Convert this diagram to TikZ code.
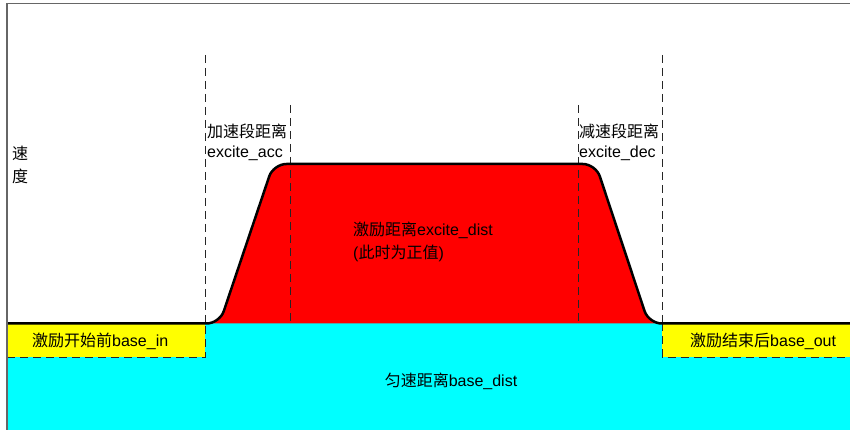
\documentclass[tikz,border=0pt]{standalone}
\usepackage{fontspec}
\setmainfont{Liberation Sans}
\newfontfamily\cjk{Noto Sans CJK SC}
\definecolor{basecyan}{RGB}{0,255,255}
\definecolor{baseyellow}{RGB}{255,255,0}
\definecolor{excitered}{RGB}{255,0,0}

\begin{document}
\begin{tikzpicture}[x=1pt, y=1pt,
    frame/.style={draw=black!60, line width=1.6pt},
    guide/.style={draw=black!85, dash pattern=on 8pt off 5pt, line width=0.8pt},
    profile/.style={line width=2.5pt, rounded corners=13pt},
    txt/.style={font=\fontsize{16}{20}\selectfont, inner sep=0pt}
]
\useasboundingbox (0,0) rectangle (850,430);

% Base distance
\fill[basecyan] (7,0) rectangle (850,106.5);
\fill[baseyellow] (7,73) rectangle (205,106.5);
\fill[baseyellow] (662,73) rectangle (850,106.5);
\draw[guide] (7,73) -- (205,73) -- (205,106.5);
\draw[guide] (662,106.5) -- (662,73) -- (850,73);

% Excite distance
\fill[excitered, rounded corners=13pt] (205,106.5) -- (219.6,106.5) -- (273.4,266) -- (595.7,266) -- (648.7,106.5) -- (662,106.5);

% Segment borders
\draw[guide] (205,375) -- (205,106.5);
\draw[guide] (290,325) -- (290,106.5);
\draw[guide] (578,325) -- (578,106.5);
\draw[guide] (662,375) -- (662,106.5);

% Speed profile
\draw[profile] (7,106.5) -- (219.6,106.5) -- (273.4,266) -- (595.7,266) -- (648.7,106.5) -- (850,106.5);

% Frame
\draw[frame] (7,0) -- (7,426.5) -- (850,426.5);

% Labels
\node[txt, anchor=base west] (speed1) at (12,270) {\cjk 速};
\node[txt, anchor=base west] (speed2) at (12,247) {\cjk 度};
\node[txt, anchor=base west] (acc1) at (207,292) {\cjk 加速段距离};
\node[txt, anchor=base west] (acc2) at (207,272) {excite\_acc};
\node[txt, anchor=base west] (dec1) at (579,292) {\cjk 减速段距离};
\node[txt, anchor=base west] (dec2) at (579,272) {excite\_dec};
\node[txt, anchor=base west] (dist1) at (353,194) {{\cjk 激励距离}excite\_dist};
\node[txt, anchor=base west] (dist2) at (353,171) {({\cjk 此时为正值})};
\node[txt, anchor=base west] (basein) at (32,83) {{\cjk 激励开始前}base\_in};
\node[txt, anchor=base west] (baseout) at (690,83) {{\cjk 激励结束后}base\_out};
\node[txt, anchor=base] (basedist) at (451,43) {{\cjk 匀速距离}base\_dist};

\end{tikzpicture}
\end{document}
